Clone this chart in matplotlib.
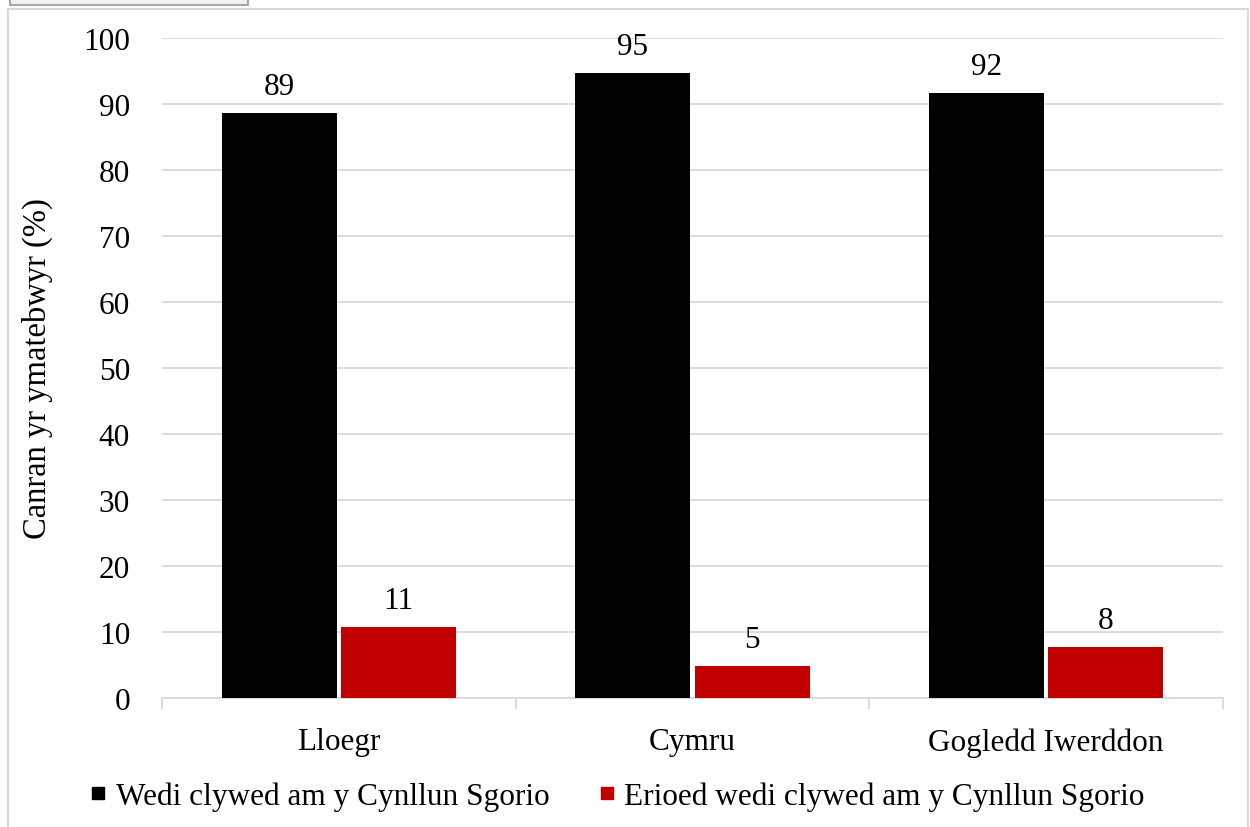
import matplotlib.pyplot as plt
from matplotlib.lines import Line2D
from matplotlib.patches import Rectangle
import numpy as np

# data
categories = ["Lloegr", "Cymru", "Gogledd Iwerddon"]
heard = [88.7, 94.7, 91.7]
never_heard = [10.8, 4.8, 7.8]
heard_labels = ["89", "95", "92"]
never_labels = ["11", "5", "8"]
series_names = ["Wedi clywed am y Cynllun Sgorio",
                "Erioed wedi clywed am y Cynllun Sgorio"]

plt.rcParams['font.family'] = ['Liberation Serif', 'DejaVu Serif']
fs = 22.5

fig = plt.figure(figsize=(12.5, 8.28), dpi=100)
ax = fig.add_axes([0.1296, 0.1558, 0.8488, 0.7971])

x = np.arange(len(categories))
w = 0.325
gap = 0.006
b1 = ax.bar(x - w / 2 - gap, heard, w, color="#000000", zorder=3)
b2 = ax.bar(x + w / 2 + gap, never_heard, w, color="#c00000", zorder=3)

for rect, lab in zip(b1, heard_labels):
    ax.annotate(lab, (rect.get_x() + rect.get_width() / 2, rect.get_height()),
                xytext=(0, 12), textcoords="offset pixels", ha="center", va="bottom", fontsize=fs)
for rect, lab in zip(b2, never_labels):
    ax.annotate(lab, (rect.get_x() + rect.get_width() / 2, rect.get_height()),
                xytext=(0, 12), textcoords="offset pixels", ha="center", va="bottom", fontsize=fs)

ax.set_xlim(-0.5, 2.5)
ax.set_ylim(0, 100)
ax.set_yticks(range(0, 101, 10))
ax.yaxis.grid(True, color="#d9d9d9", linewidth=1.3, zorder=0)
ax.set_axisbelow(True)
for s in ["top", "right", "left"]:
    ax.spines[s].set_visible(False)
ax.spines["bottom"].set_color("#d9d9d9")
ax.spines["bottom"].set_linewidth(1.3)

ax.set_xticks(x)
ax.set_xticklabels(categories, fontsize=fs)
ax.set_xticks([-0.5, 0.5, 1.5, 2.5], minor=True)
ax.tick_params(axis="x", which="major", length=0, pad=21)
ax.tick_params(axis="x", which="minor", length=8, color="#d9d9d9", width=1.3)
ax.tick_params(axis="y", length=0, labelsize=fs, pad=23)
ax.set_ylabel("Canran yr ymatebwyr (%)", fontsize=23.5, labelpad=22)

handles = [Line2D([], [], linestyle="none", marker="s", markersize=8.5, color="#000000"),
           Line2D([], [], linestyle="none", marker="s", markersize=8.5, color="#c00000")]
fig.legend(handles, series_names, loc="center", bbox_to_anchor=(0.494, 0.037), ncol=2,
           frameon=False, fontsize=fs, handlelength=0.5, handletextpad=0.3, columnspacing=1.6)

# chart border and the cut-off box at the top
fig.patches.append(Rectangle((8 / 1250, -0.01), 1240 / 1250, 1 - 10 / 828 + 0.01,
                             transform=fig.transFigure, fill=False, edgecolor="#d9d9d9", linewidth=1.5))
fig.patches.append(Rectangle((10 / 1250, 1 - 6 / 828), 238 / 1250, 0.02,
                             transform=fig.transFigure, facecolor="#f2f2f2", edgecolor="#a6a6a6", linewidth=1.5))

fig.savefig("out.png", dpi=100)
